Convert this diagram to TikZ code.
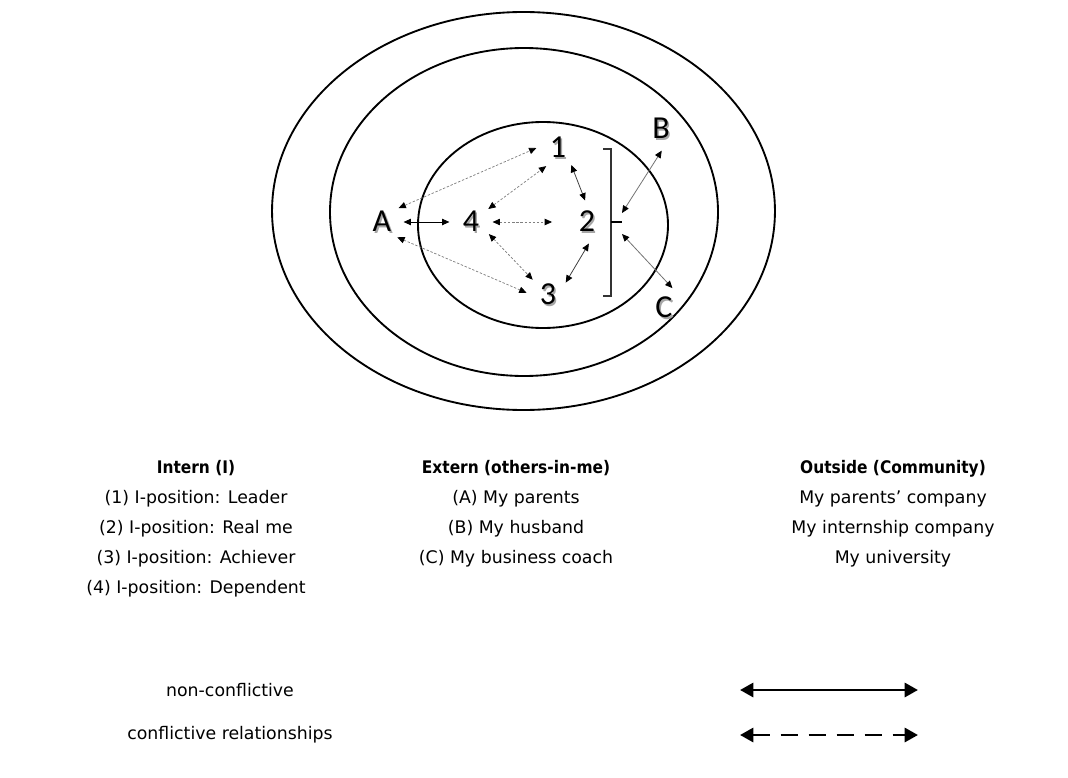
\documentclass[tikz,border=0pt]{standalone}
\usepackage{fontspec}
\setmainfont{DejaVu Sans}
\newfontfamily\lblfont{Carlito}
\newfontface\hdfont{DejaVu Sans Bold}[FakeStretch=0.89]
\usetikzlibrary{arrows.meta,calc}
\newcommand\shd[1]{\makebox[0pt][l]{\hspace{1.2pt}\raisebox{-1.2pt}{\textcolor{black!35}{#1}}}#1}
\begin{document}
\begin{tikzpicture}[x=0.75pt,y=-0.75pt,
  ring/.style={line width=1.4pt},
  lbl/.style={circle,minimum size=32pt,inner sep=0pt,font=\lblfont\fontsize{24}{24}\selectfont},
  smalltip/.style={{Triangle[length=5.5pt,width=4.8pt,color=black]}-{Triangle[length=5.5pt,width=4.8pt,color=black]}},
  conf/.style={smalltip,draw=black!50,line width=0.55pt,dash pattern=on 1.8pt off 1.3pt},
  nonconf/.style={smalltip,draw=black!75,line width=0.6pt},
  col/.style={align=center,inner sep=0pt,font=\fontsize{13}{22.5}\selectfont},
  legtxt/.style={inner sep=0pt,font=\fontsize{13}{15}\selectfont},
  bigtip/.style={{Triangle[length=10pt,width=10.5pt]}-{Triangle[length=10pt,width=10.5pt]}},
  legarrow/.style={bigtip,line width=2.2pt}]
\useasboundingbox (0,0) rectangle (1068,778);
% rings
\coordinate (ctrO) at (523.5,211);
\coordinate (ctrM) at (524,212);
\coordinate (ctrI) at (543,225);
\draw[ring] (ctrO) ellipse [x radius=188.6pt, y radius=149.25pt];
\draw[ring] (ctrM) ellipse [x radius=145.5pt, y radius=123pt];
\draw[ring] (ctrI) ellipse [x radius=93.75pt, y radius=77.25pt];
% labels
\node[lbl] (A) at (382,222) {\shd{A}};
\node[lbl] (n4) at (471,222) {\shd{4}};
\node[lbl] (n2) at (587,222) {\shd{2}};
\node[lbl] (n1) at (558,148) {\shd{1}};
\node[lbl] (n3) at (548,295) {\shd{3}};
\node[lbl] (B) at (661,129) {\shd{B}};
\node[lbl] (C) at (664,308) {\shd{C}};
% bracket
\draw[line width=0.8pt,black!80] (603,149) -- (611,149) -- (611,296) -- (603,296);
\coordinate (tick) at (622,222);
\draw[line width=0.8pt] (611,222) -- (tick);
\coordinate (bkB) at (622,213);
\coordinate (bkC) at (622,234);
% connectors
\draw[nonconf,draw=black,line width=0.7pt] (A.0) -- (n4.180);
\draw[conf] (A.40) -- (n1.180);
\draw[conf] (A.-45) -- (n3.174);
\draw[conf] (n4.37) -- (n1.-123);
\draw[conf,shorten >=10pt] (n4.0) -- (n2.180);
\draw[conf] (n4.-34) -- (n3.135);
\draw[nonconf] (n1.-52) -- (n2.95);
\draw[nonconf] (n2.-85) -- (n3.35);
\draw[nonconf,draw=black!55] (bkB) -- (B.-88);
\draw[nonconf,draw=black!55] (bkC) -- (C.67);
% columns
\node[col,anchor=north] (intern) at (196,460) {{\hdfont Intern (I)}\\(1) I-position: Leader\\(2) I-position: Real me\\(3) I-position: Achiever\\(4) I-position: Dependent};
\node[col,anchor=north] (extern) at (516,460) {{\hdfont Extern (others-in-me)}\\(A) My parents\\(B) My husband\\(C) My business coach};
\node[col,anchor=north] (outside) at (893,460) {{\hdfont Outside (Community)}\\My parents’ company\\My internship company\\My university};
% legend
\node[legtxt] (nc) at (230,690) {non-conflictive};
\node[legtxt] (cr) at (230,735) {conflictive relationships};
\coordinate (l1a) at (740,690);
\coordinate (l1b) at (918,690);
\coordinate (l2a) at (740,735);
\coordinate (l2b) at (918,735);
\draw[legarrow] (l1a) -- (l1b);
\draw[legarrow,dash pattern=on 13pt off 8pt] (l2a) -- (l2b);
\end{tikzpicture}
\end{document}
